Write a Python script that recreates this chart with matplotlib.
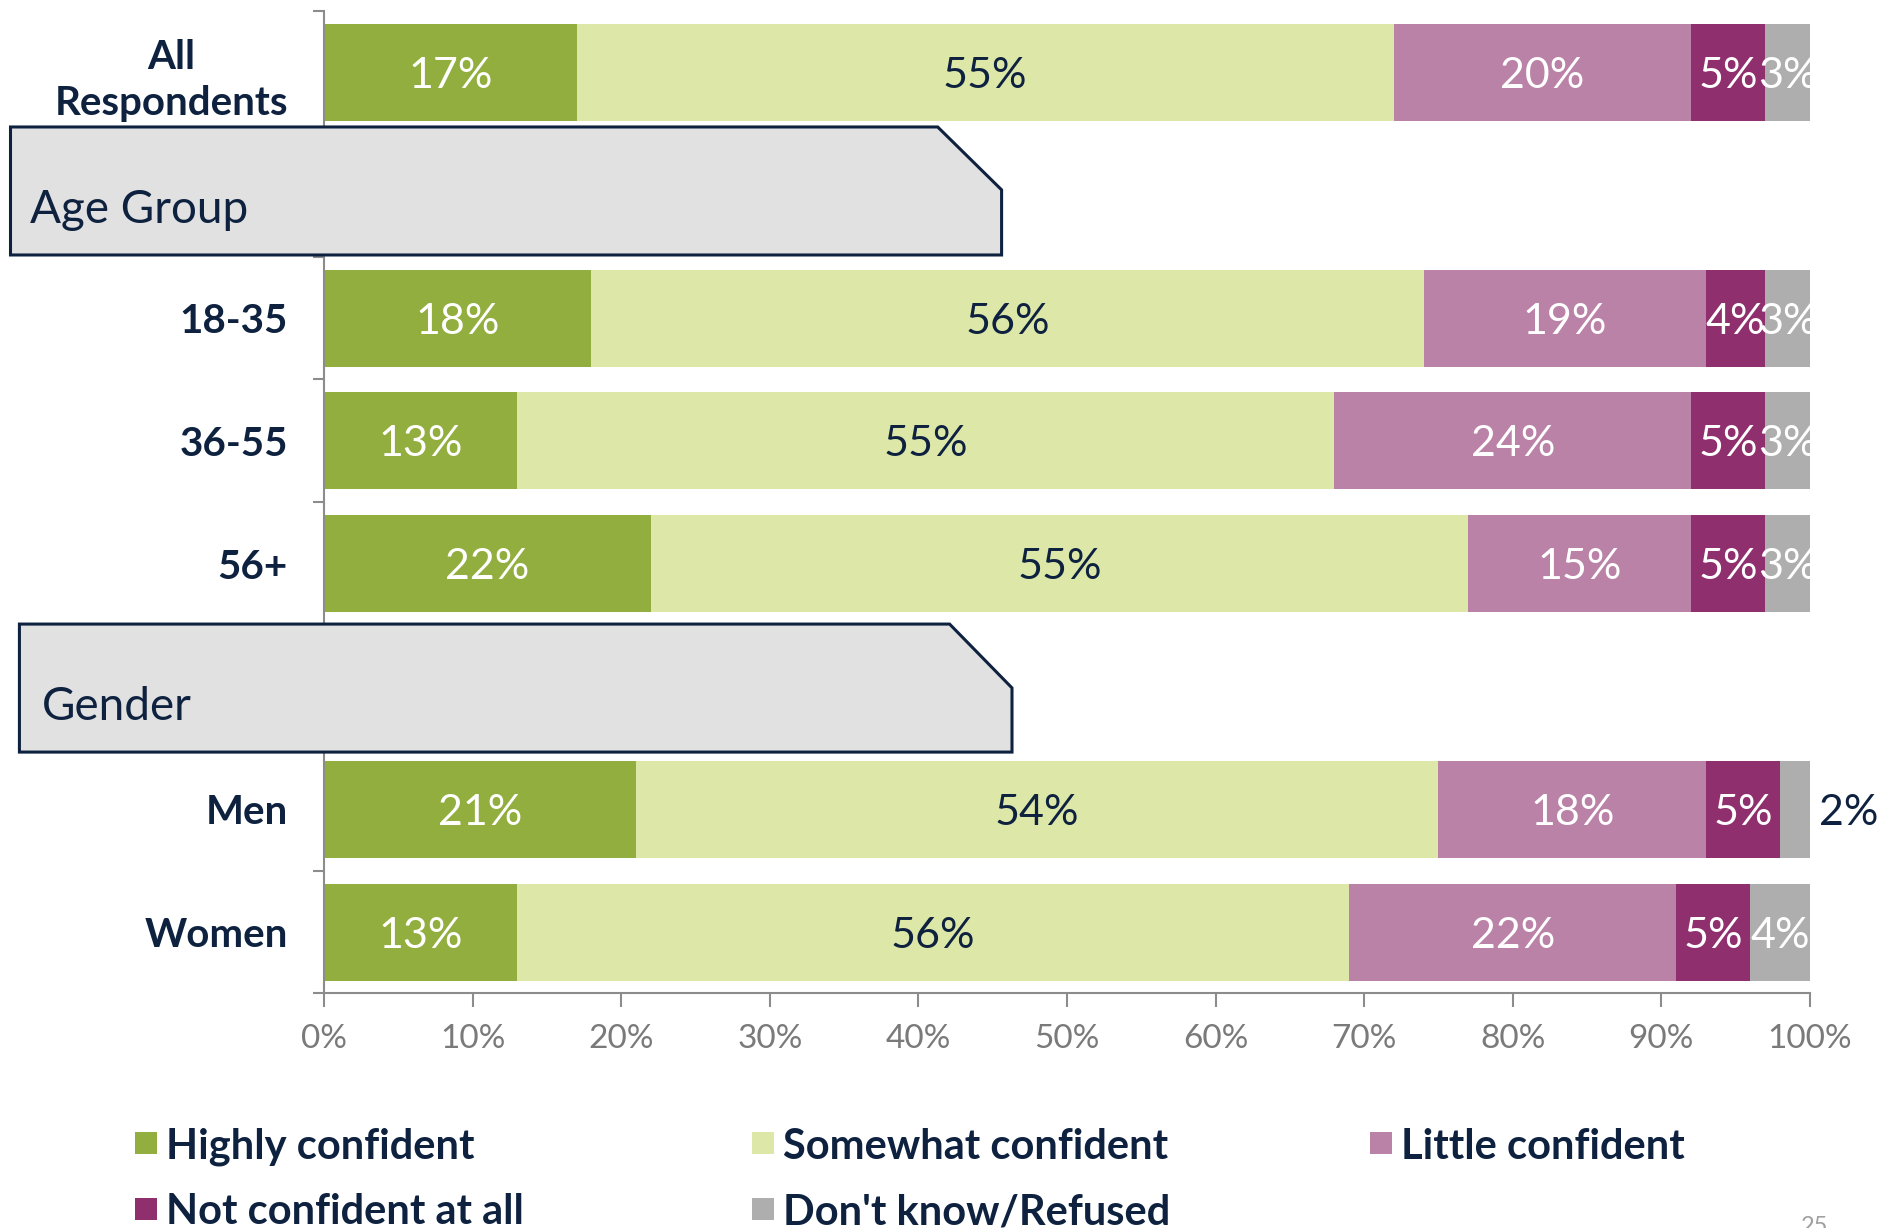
import matplotlib.pyplot as plt
from matplotlib.patches import Polygon, Rectangle
import numpy as np

# survey answers, percent of respondents
categories = ['All\nRespondents', '18-35', '36-55', '56+', 'Men', 'Women']
row_slots = [0, 2, 3, 4, 6, 7]          # slots 1 and 5 hold the group headers
highly = [17, 18, 13, 22, 21, 13]
somewhat = [55, 56, 55, 55, 54, 56]
little = [20, 19, 24, 15, 18, 22]
not_conf = [5, 4, 5, 5, 5, 5]
dont_know = [3, 3, 3, 3, 2, 4]

series_names = ['Highly confident', 'Somewhat confident', 'Little confident',
                'Not confident at all', "Don't know/Refused"]
colors = ['#92AE3E', '#DDE8A8', '#BB82A8', '#8F2F6E', '#AEAEAE']
label_colors = ['white', '#0E2240', 'white', 'white', 'white']
navy = '#0E2240'

plt.rcParams['font.family'] = ['Lato', 'DejaVu Sans']

fig = plt.figure(figsize=(18.96, 12.28), dpi=100)
ax = fig.add_axes([0.1709, 0.191, 0.7837, 0.800])

values = [highly, somewhat, little, not_conf, dont_know]
left = np.zeros(len(categories))
for vals, col, tcol in zip(values, colors, label_colors):
    vals = np.array(vals)
    ax.barh(row_slots, vals, left=left, height=0.79, color=col, zorder=2)
    for y, l, v in zip(row_slots, left, vals):
        if v < 3:
            ax.text(l + v + 2.6, y, f'{v}%', ha='center', va='center_baseline',
                    fontsize=31, color=navy, clip_on=False)
        else:
            ax.text(l + v / 2, y, f'{v}%', ha='center', va='center_baseline',
                    fontsize=31, color=tcol, zorder=3, clip_on=False)
    left += vals

ax.set_xlim(0, 100)
ax.set_ylim(7.5, -0.5)

# axes styling
for s in ['top', 'right']:
    ax.spines[s].set_visible(False)
for s in ['left', 'bottom']:
    ax.spines[s].set_color('#8C8C8C')
    ax.spines[s].set_linewidth(1.5)

ax.set_xticks(np.arange(0, 101, 10))
ax.set_xticklabels([f'{t}%' for t in range(0, 101, 10)])
ax.tick_params(axis='x', colors='#8C8C8C', length=10, width=1.5, pad=12,
               labelsize=24, labelcolor='#7A7A7A')

ax.set_yticks(row_slots)
ax.set_yticklabels(categories, fontsize=29, fontweight='bold', color=navy,
                   multialignment='center', linespacing=1.3)
ax.tick_params(axis='y', length=0, pad=26)
ax.set_yticks(np.arange(-0.5, 8, 1), minor=True)
ax.tick_params(axis='y', which='minor', length=8, width=1.5, colors='#8C8C8C')

# group header boxes (axes fraction coords, drawn over the spine)
def header(text, x0, x1, xc, y_top, y_mid, y_bot, tx, ty):
    pts = [(x0, y_top), (xc, y_top), (x1, y_mid), (x1, y_bot), (x0, y_bot)]
    ax.add_patch(Polygon(pts, closed=True, transform=ax.transAxes,
                         facecolor='#E1E1E1', edgecolor=navy, lw=2.2,
                         clip_on=False, zorder=5))
    ax.text(tx, ty, text, transform=ax.transAxes, fontsize=33, color=navy,
            va='baseline', ha='left', zorder=6, clip_on=False)

header('Age Group', -0.211, 0.456, 0.413, 0.882, 0.818, 0.7517, -0.198, 0.784)
header('Gender', -0.205, 0.463, 0.421, 0.376, 0.311, 0.2457, -0.190, 0.2783)

# legend, laid out in rows like the slide
col_x = [0.0712, 0.3966, 0.7226]
row_y = [0.0692, 0.0155]
for i, (name, col) in enumerate(zip(series_names, colors)):
    x = col_x[i % 3]
    y = row_y[i // 3]
    fig.patches.append(Rectangle((x, y - 0.009), 0.0116, 0.018, transform=fig.transFigure,
                                 facecolor=col, edgecolor='none'))
    fig.text(x + 0.0165, y, name, fontsize=30, fontweight='bold', color=navy,
             va='center_baseline', ha='left')

# slide number, partly cut off at the bottom edge as on the slide
fig.text(0.957, 1 - 1216 / 1228, '25', fontsize=17, color='#A0A0A0', ha='center', va='top')

fig.savefig('out.png', dpi=100)
